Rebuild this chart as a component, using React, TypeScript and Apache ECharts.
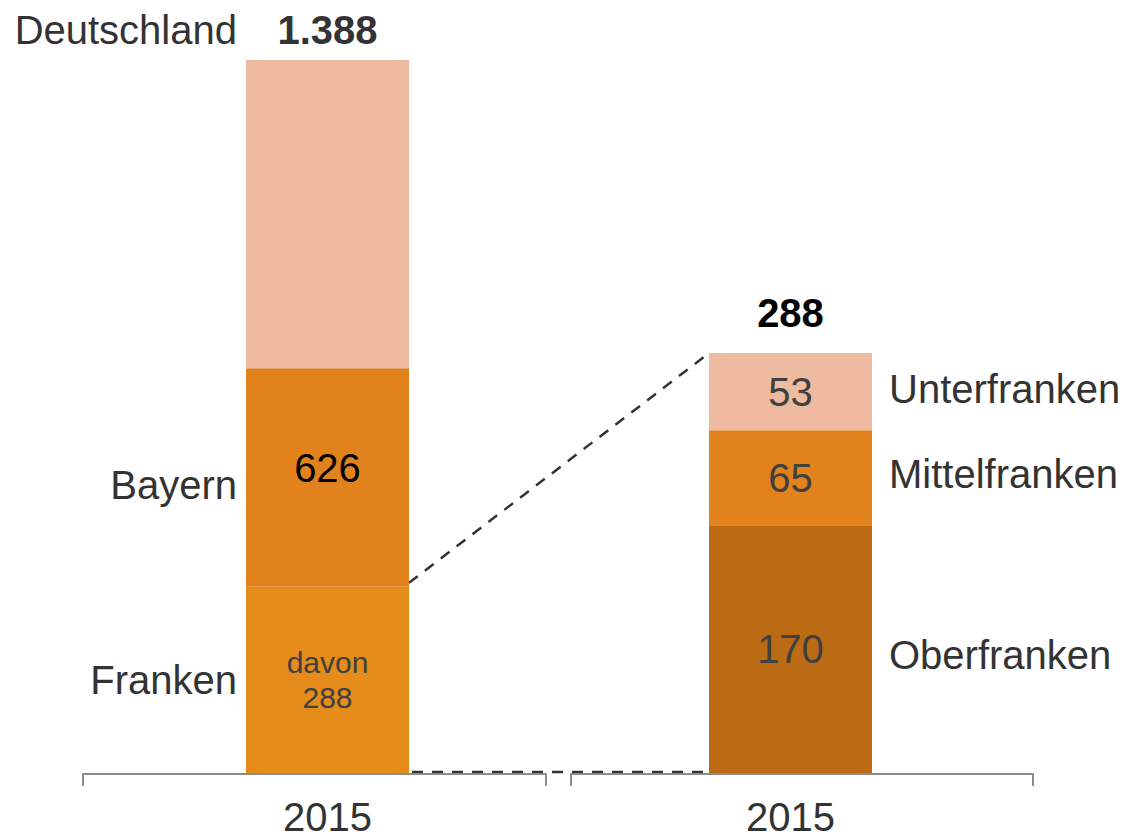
import React, { useEffect, useRef } from 'react';
import * as echarts from 'echarts';

const FONT = '"Liberation Sans", Arial, Helvetica, sans-serif';

// Left bar: Franken / rest of Bayern / rest of Deutschland (drawn heights, the original is not to scale)
const leftCategories = ['2015'];
const leftSegmentNames = ['Franken', 'Bayern', 'Deutschland'];
const leftSegmentValues = [288, 338, 477];
const leftLabelValues = [288, 626, 1388];
const leftColors = ['#E68C1A', '#E2821C', '#EEBBA0'];

// Right bar: breakdown of Franken
const rightCategories = ['2015'];
const rightSegmentNames = ['Oberfranken', 'Mittelfranken', 'Unterfranken'];
const rightSegmentValues = [170, 65, 53];
const rightColors = ['#BC6B15', '#E2821C', '#EEBBA0'];

const BAR_W = 163;
const TRANSPARENT = 'rgba(0,0,0,0)';

function fmt(n: number): string {
  return String(n).replace(/\B(?=(\d{3})+(?!\d))/g, '.');
}

export default function App() {
  const ref = useRef<HTMLDivElement>(null);

  useEffect(() => {
    if (!ref.current) return;
    const chart = echarts.init(ref.current, null, { renderer: 'svg' });
    const rightTotal = rightSegmentValues.reduce((a, b) => a + b, 0);
    const leftMax = leftSegmentValues.reduce((a, b) => a + b, 0);

    const leftMain = leftSegmentValues.map((v, i) => {
      let label: any;
      if (i === 0) {
        label = {
          show: true, position: 'inside', formatter: `davon\n${fmt(leftLabelValues[0])}`,
          fontSize: 30, lineHeight: 35, color: '#404040', fontFamily: FONT,
        };
      } else if (i === 1) {
        label = {
          show: true, position: 'inside', formatter: fmt(leftLabelValues[1]),
          fontSize: 40, color: '#000', fontFamily: FONT, offset: [0, -10],
        };
      } else {
        label = {
          show: true, position: 'top', formatter: fmt(leftLabelValues[2]), distance: 10,
          fontSize: 40, fontWeight: 'bold', color: '#333', fontFamily: FONT,
        };
      }
      return {
        type: 'bar', name: leftSegmentNames[i], xAxisIndex: 0, yAxisIndex: 0, stack: 'L',
        barWidth: BAR_W, barGap: '-100%', data: [v], itemStyle: { color: leftColors[i] }, label,
      };
    });

    const leftNames = leftSegmentValues.map((v, i) => {
      let label: any;
      if (i < 2) {
        label = {
          show: true, position: 'left', distance: 9, formatter: leftSegmentNames[i],
          fontSize: 40, color: '#333', fontFamily: FONT, offset: i === 1 ? [0, 7] : [0, 0],
        };
      } else {
        label = {
          show: true, position: 'top', distance: 10, align: 'right', offset: [-(BAR_W / 2 + 9), 0],
          formatter: leftSegmentNames[i], fontSize: 40, color: '#333', fontFamily: FONT,
        };
      }
      return {
        type: 'bar', xAxisIndex: 0, yAxisIndex: 0, stack: 'Lnames', silent: true,
        barWidth: BAR_W, barGap: '-100%', data: [v], itemStyle: { color: TRANSPARENT }, label,
      };
    });

    const rightOffsets = [[0, 6], [0, -4], [0, -3]];
    const rightMain = rightSegmentValues.map((v, i) => ({
      type: 'bar', name: rightSegmentNames[i], xAxisIndex: 1, yAxisIndex: 1, stack: 'R',
      barWidth: BAR_W, barGap: '-100%', data: [v], itemStyle: { color: rightColors[i] },
      label: {
        show: true, position: 'inside', formatter: fmt(v),
        fontSize: 40, color: '#404040', fontFamily: FONT,
      },
    }));
    const rightNames = rightSegmentValues.map((v, i) => ({
      type: 'bar', xAxisIndex: 1, yAxisIndex: 1, stack: 'Rnames', silent: true,
      barWidth: BAR_W, barGap: '-100%', data: [v], itemStyle: { color: TRANSPARENT },
      label: {
        show: true, position: 'right', distance: 17, formatter: rightSegmentNames[i],
        fontSize: 40, color: '#333', fontFamily: FONT, offset: rightOffsets[i],
      },
    }));
    const rightTotalSeries = {
      type: 'bar', xAxisIndex: 1, yAxisIndex: 1, stack: 'Rtotal', silent: true,
      barWidth: BAR_W, barGap: '-100%', data: [rightTotal], itemStyle: { color: TRANSPARENT },
      label: {
        show: true, position: 'top', distance: 20, formatter: fmt(rightTotal),
        fontSize: 40, fontWeight: 'bold', color: '#000', fontFamily: FONT,
      },
    };

    const barXAxis = (gridIndex: number, data: string[]) => ({
      type: 'category', gridIndex, data,
      axisLine: { show: false }, axisTick: { show: false },
      axisLabel: { fontSize: 40, lineHeight: 32, color: '#333', fontFamily: FONT, margin: 28 },
    });
    const decoXAxis = (gridIndex: number) => ({
      type: 'category', gridIndex, data: [''], boundaryGap: true,
      axisLine: { show: true, lineStyle: { color: '#8C8C8C', width: 2 } },
      axisTick: { show: true, length: 12, lineStyle: { color: '#8C8C8C', width: 2 } },
      axisLabel: { show: false },
    });

    chart.setOption({
      animation: false,
      backgroundColor: '#fff',
      grid: [
        { left: 246, width: BAR_W, top: 60, bottom: 66, outerBoundsMode: 'none', containLabel: false },
        { left: 709, width: BAR_W, top: 60, bottom: 66, outerBoundsMode: 'none', containLabel: false },
        { left: 83, width: 463, top: 60, bottom: 65, outerBoundsMode: 'none', containLabel: false },
        { left: 571, width: 462, top: 60, bottom: 65, outerBoundsMode: 'none', containLabel: false },
      ],
      xAxis: [barXAxis(0, leftCategories), barXAxis(1, rightCategories), decoXAxis(2), decoXAxis(3)],
      yAxis: [
        { type: 'value', gridIndex: 0, min: 0, max: leftMax, show: false },
        { type: 'value', gridIndex: 1, min: 0, max: 489, show: false },
        { type: 'value', gridIndex: 2, show: false },
        { type: 'value', gridIndex: 3, show: false },
      ],
      series: [...leftMain, ...leftNames, ...rightMain, ...rightNames, rightTotalSeries],
    });

    const pFrankenTop = chart.convertToPixel({ gridIndex: 0 } as any, [0, leftSegmentValues[0]]) as number[];
    const pLeftBase = chart.convertToPixel({ gridIndex: 0 } as any, [0, 0]) as number[];
    const pRightTop = chart.convertToPixel({ gridIndex: 1 } as any, [0, rightTotal]) as number[];
    const pRightBase = chart.convertToPixel({ gridIndex: 1 } as any, [0, 0]) as number[];
    const lx = pFrankenTop[0] + BAR_W / 2;
    const rx = pRightTop[0] - BAR_W / 2;
    const dashStyle = { stroke: '#333', lineWidth: 2.5, lineDash: [11, 9] };
    chart.setOption({
      graphic: [
        { type: 'line', shape: { x1: lx, y1: pFrankenTop[1] - 4, x2: rx, y2: pRightTop[1] }, style: dashStyle, silent: true },
        { type: 'line', shape: { x1: lx + 3, y1: pLeftBase[1] - 1, x2: rx, y2: pRightBase[1] - 1 }, style: dashStyle, silent: true },
      ],
    });

    return () => chart.dispose();
  }, []);

  return (
    <div
      ref={ref}
      style={{ position: 'absolute', left: 0, top: 0, width: 1126, height: 839 }}
    />
  );
}
